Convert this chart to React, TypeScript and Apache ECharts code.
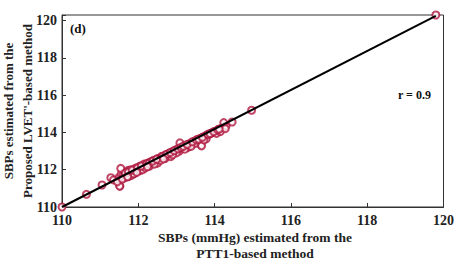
import React, { useEffect, useRef } from "react";
import * as echarts from "echarts";

const ptt1Sbp: number[] = [
  110.0, 110.64, 111.05, 111.28, 111.35, 111.5, 111.52, 111.55, 111.6, 111.65,
  111.7, 111.72, 111.78, 111.8, 111.85, 111.9, 111.95, 112.0, 112.05, 112.1,
  112.15, 112.2, 112.25, 112.3, 112.35, 112.4, 112.45, 112.5, 112.55, 112.6,
  112.62, 112.68, 112.72, 112.78, 112.82, 112.88, 112.92, 112.98, 113.02, 113.08,
  113.1, 113.15, 113.2, 113.25, 113.3, 113.35, 113.4, 113.45, 113.5, 113.55,
  113.6, 113.65, 113.7, 113.75, 113.8, 113.85, 113.9, 113.95, 114.0, 114.1,
  114.2, 114.25, 114.3, 114.46, 114.97, 119.8, 111.51, 111.54, 111.62, 111.75,
  111.9, 112.05, 112.3, 112.5, 112.85, 113.09, 113.3, 113.64, 113.66, 114.24,
  111.45, 111.68, 111.82, 112.12, 112.42, 112.7, 113.0, 113.22, 113.48, 113.78,
  114.05, 114.15, 111.58, 111.88, 112.18, 112.58, 112.9, 113.38, 113.72, 114.28,
  111.66, 111.74, 111.84, 111.98, 112.08, 112.22, 112.28, 112.38, 112.48, 112.64,
  112.74, 112.84, 112.94, 113.04, 113.12, 113.18, 113.28, 113.42, 113.52, 113.58,
  113.68, 113.82, 113.88, 113.98, 114.08, 114.12, 111.72, 111.96, 112.24, 112.66,
];
const lvetSbp: number[] = [
  110.0, 110.68, 111.18, 111.57, 111.45, 111.6, 111.12, 111.75, 111.7, 111.85,
  111.8, 111.95, 111.9, 112.0, 111.92, 112.05, 112.1, 112.08, 112.2, 112.15,
  112.3, 112.25, 112.35, 112.4, 112.45, 112.5, 112.42, 112.6, 112.55, 112.7,
  112.65, 112.75, 112.8, 112.85, 112.9, 112.95, 113.0, 113.05, 113.1, 113.0,
  113.2, 113.15, 113.25, 113.3, 113.35, 113.4, 113.45, 113.5, 113.55, 113.6,
  113.65, 113.7, 113.75, 113.8, 113.85, 113.9, 113.95, 114.0, 114.05, 114.15,
  114.25, 114.3, 114.35, 114.56, 115.19, 120.3, 111.12, 112.07, 111.55, 111.65,
  111.8, 111.95, 112.2, 112.35, 112.7, 113.44, 113.2, 113.32, 113.28, 114.53,
  111.35, 111.6, 111.7, 112.0, 112.3, 112.6, 112.9, 113.1, 113.4, 113.65,
  113.95, 114.05, 111.5, 111.78, 112.1, 112.5, 112.8, 113.25, 113.6, 114.2,
  111.82, 111.88, 111.98, 112.1, 112.2, 112.32, 112.34, 112.46, 112.56, 112.72,
  112.82, 112.92, 113.02, 113.12, 113.2, 113.26, 113.36, 113.5, 113.6, 113.64,
  113.74, 113.9, 113.94, 114.04, 114.14, 114.18, 111.62, 111.86, 112.16, 112.58,
];
const fitLineX: number[] = [110, 119.8];
const fitLineY: number[] = [110, 120.25];
const tickValues: number[] = [110, 112, 114, 116, 118, 120];

export default function App() {
  const ref = useRef<HTMLDivElement>(null);
  useEffect(() => {
    if (!ref.current) return;
    const chart = echarts.init(ref.current, null, { renderer: "svg" });
    const font = "'Liberation Serif', 'Times New Roman', serif";
    const scatter = ptt1Sbp.map((x, i) => [x, lvetSbp[i]]);
    const line = fitLineX.map((x, i) => [x, fitLineY[i]]);
    const fmt = (v: number) => (tickValues.includes(Math.round(v * 1000) / 1000) ? String(v) : "");
    chart.setOption({
      animation: false,
      grid: {
        left: 62,
        right: 11,
        top: 15,
        bottom: 56,
        show: true,
        borderColor: "#333",
        borderWidth: 1,
        backgroundColor: "#fff",
      },
      xAxis: {
        type: "value",
        min: 110,
        max: 120,
        interval: 2,
        axisLine: { show: true, lineStyle: { color: "#333" } },
        axisTick: { show: true, inside: true, length: 4, lineStyle: { color: "#333" } },
        splitLine: { show: false },
        axisLabel: {
          color: "#222",
          fontFamily: font,
          fontWeight: "bold",
          fontSize: 14,
          margin: 6,
          formatter: fmt,
        },
      },
      yAxis: {
        type: "value",
        min: 110,
        max: 120.3,
        interval: 2,
        axisLine: { show: true, lineStyle: { color: "#333" } },
        axisTick: { show: true, inside: true, length: 4, lineStyle: { color: "#333" } },
        splitLine: { show: false },
        axisLabel: {
          color: "#222",
          fontFamily: font,
          fontWeight: "bold",
          fontSize: 14,
          margin: 5,
          formatter: fmt,
        },
      },
      graphic: [
        {
          type: "text",
          left: 70,
          top: 22,
          style: { text: "(d)", font: `bold 13px ${font}`, fill: "#111" },
        },
        {
          type: "text",
          left: 398,
          top: 89,
          style: { text: "r = 0.9", font: `bold 12px ${font}`, fill: "#111" },
        },
        {
          type: "text",
          x: 255,
          y: 229,
          style: {
            text: "SBPs (mmHg) estimated from the\nPTT1-based method",
            font: `bold 13.5px ${font}`,
            fill: "#222",
            align: "center",
            verticalAlign: "top",
            lineHeight: 16,
          },
        },
        {
          type: "text",
          x: 18,
          y: 111,
          rotation: Math.PI / 2,
          style: {
            text: "SBPs estimated from the\nProposed LVET'-based method",
            font: `bold 13px ${font}`,
            fill: "#222",
            align: "center",
            verticalAlign: "middle",
            lineHeight: 19,
          },
        },
      ],
      series: [
        {
          type: "scatter",
          data: scatter,
          symbol: "emptyCircle",
          symbolSize: 7,
          itemStyle: { color: "#b01840", borderColor: "#b01840", borderWidth: 1 },
          z: 2,
        },
        {
          type: "line",
          data: line,
          symbol: "none",
          lineStyle: { color: "#000", width: 2 },
          z: 3,
        },
      ],
    });
    return () => chart.dispose();
  }, []);
  return (
    <div
      ref={ref}
      style={{ position: "absolute", left: 0, top: 0, width: 457, height: 263 }}
    />
  );
}
